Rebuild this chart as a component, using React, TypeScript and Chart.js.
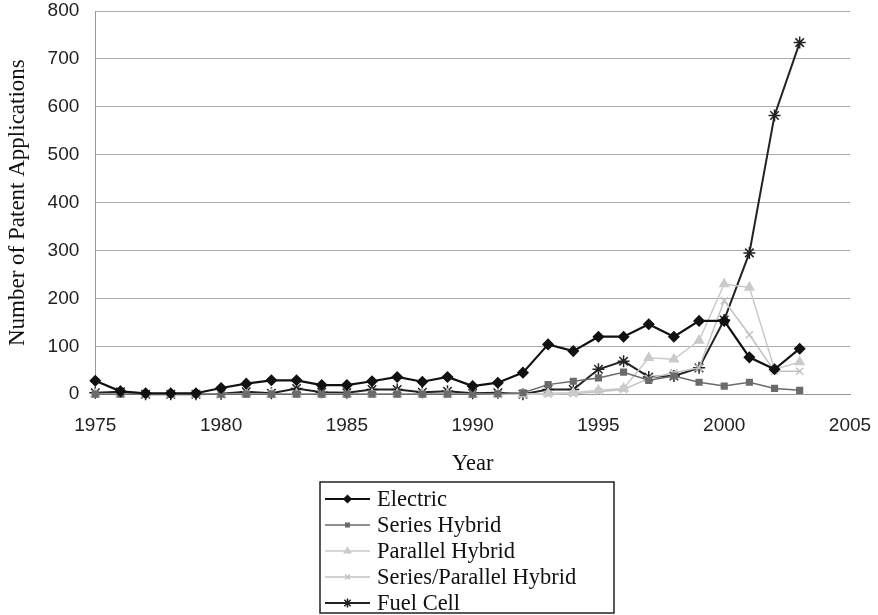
import React, { useEffect, useRef } from "react";
import { Chart, registerables } from "chart.js";
import { drawPoint } from "chart.js/helpers";

Chart.register(...registerables);

const years = [1975, 1976, 1977, 1978, 1979, 1980, 1981, 1982, 1983, 1984, 1985, 1986, 1987, 1988, 1989, 1990, 1991, 1992, 1993, 1994, 1995, 1996, 1997, 1998, 1999, 2000, 2001, 2002, 2003];

const electric = [28, 6, 2, 2, 2, 13, 22, 29, 29, 19, 19, 27, 36, 26, 36, 17, 24, 45, 104, 90, 120, 120, 146, 120, 153, 153, 77, 52, 95];
const seriesHybrid = [0, 0, 0, 0, 0, 0, 0, 0, 0, 0, 0, 0, 0, 0, 0, 0, 1, 3, 20, 27, 34, 46, 29, 38, 25, 17, 25, 12, 8];
const parallelHybrid = [0, 0, 0, 0, 0, 0, 0, 0, 0, 0, 0, 0, 0, 0, 0, 0, 0, 0, 2, 3, 8, 12, 76, 73, 112, 230, 223, 52, 67];
const seriesParallelHybrid = [0, 0, 0, 0, 0, 0, 0, 0, 0, 0, 0, 0, 0, 0, 0, 0, 0, 0, 0, 1, 5, 10, 33, 45, 55, 195, 124, 48, 48];
const fuelCell = [3, 5, 0, 0, 0, 1, 5, 2, 12, 4, 3, 10, 10, 4, 6, 2, 3, 0, 10, 10, 52, 69, 36, 38, 55, 155, 295, 582, 734];

const seriesNames = ["Electric", "Series Hybrid", "Parallel Hybrid", "Series/Parallel Hybrid", "Fuel Cell"];
const yTicks = [0, 100, 200, 300, 400, 500, 600, 700, 800];
const xTicks = [1975, 1980, 1985, 1990, 1995, 2000, 2005];

const styles = [
  { color: "#111111", point: "rectRot", radius: 5, width: 2.2 },
  { color: "#6b6b6b", point: "rect", radius: 4, width: 1.5 },
  { color: "#cacaca", point: "triangle", radius: 5, width: 1.5 },
  { color: "#c2c2c2", point: "crossRot", radius: 5, width: 1.5 },
  { color: "#222222", point: "star", radius: 6, width: 2 },
];

const legendPlugin = {
  id: "boxLegend",
  afterDraw(chart: any) {
    const ctx = chart.ctx;
    const left = 320;
    const top = 482;
    const w = 294;
    const h = 131;
    ctx.save();
    ctx.strokeStyle = "#222";
    ctx.lineWidth = 1.5;
    ctx.strokeRect(left, top, w, h);
    const ds = chart.data.datasets;
    ds.forEach((d: any, i: number) => {
      const y = top + 17 + i * 26;
      ctx.strokeStyle = d.borderColor;
      ctx.lineWidth = d.borderWidth;
      ctx.beginPath();
      ctx.moveTo(325, y);
      ctx.lineTo(370, y);
      ctx.stroke();
      ctx.fillStyle = d.pointBackgroundColor;
      ctx.strokeStyle = d.pointBorderColor;
      ctx.lineWidth = 1.5;
      drawPoint(ctx, { pointStyle: d.pointStyle, radius: d.pointRadius - 1.5, borderWidth: 1.5, rotation: 0 } as any, 347.5, y);
      ctx.fillStyle = "#111";
      ctx.font = "22.5px 'Liberation Serif'";
      ctx.textBaseline = "middle";
      ctx.textAlign = "left";
      ctx.fillText(d.label, 377, y + 1);
    });
    ctx.restore();
  },
};

export default function App() {
  const ref = useRef<HTMLCanvasElement>(null);
  useEffect(() => {
    document.body.style.margin = "0";
    const seriesData = [electric, seriesHybrid, parallelHybrid, seriesParallelHybrid, fuelCell];
    const chart = new Chart(ref.current!, {
      type: "line",
      data: {
        datasets: seriesNames.map((name, i) => ({
          label: name,
          data: years.map((y, j) => ({ x: y, y: seriesData[i][j] })),
          borderColor: styles[i].color,
          backgroundColor: styles[i].color,
          pointBackgroundColor: styles[i].color,
          pointBorderColor: styles[i].color,
          pointStyle: styles[i].point as any,
          pointRadius: styles[i].radius,
          pointBorderWidth: 1.5,
          borderWidth: styles[i].width,
          tension: 0,
          clip: false as any,
        })),
      },
      options: {
        animation: false,
        responsive: false,
        layout: { padding: { left: 0, right: 28, top: 11, bottom: 137 } },
        plugins: { legend: { display: false }, tooltip: { enabled: false } },
        scales: {
          x: {
            type: "linear",
            min: 1975,
            max: 2005,
            afterBuildTicks: (axis: any) => {
              axis.ticks = xTicks.map((v) => ({ value: v }));
            },
            afterFit: (scale: any) => {
              scale.paddingLeft = 0;
              scale.paddingRight = 0;
            },
            grid: { display: false, drawTicks: false },
            border: { display: true, color: "#999" },
            ticks: {
              padding: 20,
              color: "#222",
              font: { family: "'Liberation Sans'", size: 19 },
              callback: (v: any) => String(v),
            },
            title: {
              display: true,
              text: "Year",
              color: "#111",
              font: { family: "'Liberation Serif'", size: 22.5 },
              padding: { top: -6, bottom: 0 },
            },
          },
          y: {
            min: 0,
            max: 800,
            afterBuildTicks: (axis: any) => {
              axis.ticks = yTicks.map((v) => ({ value: v }));
            },
            afterFit: (scale: any) => {
              scale.paddingTop = 0;
              scale.paddingBottom = 0;
            },
            grid: { color: "#aaaaaa", lineWidth: 1, drawTicks: false },
            border: { display: true, color: "#999" },
            ticks: {
              padding: 16,
              color: "#222",
              font: { family: "'Liberation Sans'", size: 19 },
            },
            title: {
              display: true,
              text: "Number of Patent Applications",
              color: "#111",
              font: { family: "'Liberation Serif'", size: 23 },
              padding: { top: 4, bottom: 0 },
            },
          },
        },
      },
      plugins: [legendPlugin],
    });
    return () => chart.destroy();
  }, []);
  return (
    <div style={{ width: 878, height: 615, background: "#fff" }}>
      <canvas ref={ref} width={878} height={615} />
    </div>
  );
}
